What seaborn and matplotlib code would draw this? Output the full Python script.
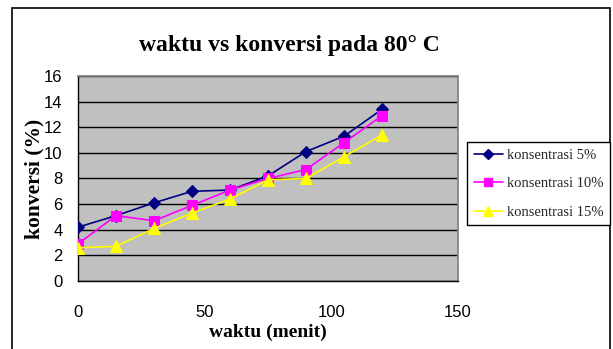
import matplotlib
matplotlib.use("Agg")
import matplotlib.pyplot as plt
import seaborn as sns
import pandas as pd
from matplotlib.patches import Rectangle
from matplotlib.lines import Line2D

waktu = [0, 15, 30, 45, 60, 75, 90, 105, 120]
konsentrasi_5 = [4.2, 5.1, 6.1, 7.0, 7.1, 8.2, 10.1, 11.3, 13.4]
konsentrasi_10 = [2.9, 5.1, 4.7, 5.9, 7.1, 8.0, 8.7, 10.8, 12.9]
konsentrasi_15 = [2.6, 2.7, 4.1, 5.3, 6.4, 7.9, 8.0, 9.7, 11.4]
series_names = ["konsentrasi 5%", "konsentrasi 10%", "konsentrasi 15%"]
x_ticks = [0, 50, 100, 150]
y_ticks = [0, 2, 4, 6, 8, 10, 12, 14, 16]

colors = ["#000080", "#FF00FF", "#FFFF00"]
markers = ["D", "s", "^"]
msizes = [6, 7, 8]

sns.set_theme(style="white")
plt.rcParams["font.family"] = ["Liberation Sans", "DejaVu Sans"]

fig = plt.figure(figsize=(6.13, 3.49), dpi=100)
ax = fig.add_axes([78 / 613, 1 - 281 / 349, 380 / 613, 205 / 349])

data = {
    series_names[0]: konsentrasi_5,
    series_names[1]: konsentrasi_10,
    series_names[2]: konsentrasi_15,
}
for name, c, m, ms in zip(series_names, colors, markers, msizes):
    df = pd.DataFrame({"waktu": waktu, "konversi": data[name]})
    sns.lineplot(data=df, x="waktu", y="konversi", ax=ax, color=c, marker=m,
                 markersize=ms, markeredgecolor=c, linewidth=1.2, label=name,
                 legend=False, zorder=3)

ax.set_facecolor("#C0C0C0")
ax.set_xlim(0, 150)
ax.set_ylim(0, 16)
ax.set_xticks(x_ticks)
ax.set_yticks(y_ticks)
ax.set_xticklabels([str(t) for t in x_ticks])
ax.set_yticklabels([str(t) for t in y_ticks])
ax.yaxis.grid(True, color="black", linewidth=1.0)
ax.xaxis.grid(False)
ax.set_axisbelow(True)
for s in ["top", "right"]:
    ax.spines[s].set_color("#808080")
    ax.spines[s].set_linewidth(1.2)
for s in ["left", "bottom"]:
    ax.spines[s].set_color("black")
    ax.spines[s].set_linewidth(1.0)
ax.tick_params(axis="both", which="major", direction="out", length=5, width=1,
               color="black", labelsize=12, labelcolor="black")
ax.tick_params(axis="x", pad=12)
ax.tick_params(axis="y", pad=6)

serif = ["Liberation Serif", "DejaVu Serif"]
ax.set_xlabel("waktu (menit)", family=serif, fontsize=14, fontweight="bold",
              labelpad=3, color="black")
ax.set_ylabel("konversi (%)", family=serif, fontsize=15.5, fontweight="bold",
              labelpad=0, color="black")
fig.text(289 / 613, 1 - 45 / 349, "waktu vs konversi pada 80° C", family=serif,
         fontsize=17, fontweight="bold", ha="center", va="center", color="black")

handles = [Line2D([0], [0], color=c, marker=m, markersize=ms - 1, markeredgecolor=c,
                  linewidth=1.2) for c, m, ms in zip(colors, markers, msizes)]
leg = fig.legend(handles, series_names, loc="upper left",
                 bbox_to_anchor=(467 / 613, 1 - 142 / 349), frameon=True,
                 fancybox=False, edgecolor="black", framealpha=1,
                 prop={"family": serif, "size": 10.5}, handlelength=2.0,
                 borderpad=0.45, labelspacing=1.05, handletextpad=0.3,
                 borderaxespad=0)
leg.get_frame().set_linewidth(1.0)

fig.patches.append(Rectangle((12 / 613, -0.05), (610 - 12) / 613, 1 - 8 / 349 + 0.05,
                             transform=fig.transFigure, fill=False,
                             edgecolor="black", linewidth=1.2))

fig.savefig("out.png", dpi=100, facecolor="white")
